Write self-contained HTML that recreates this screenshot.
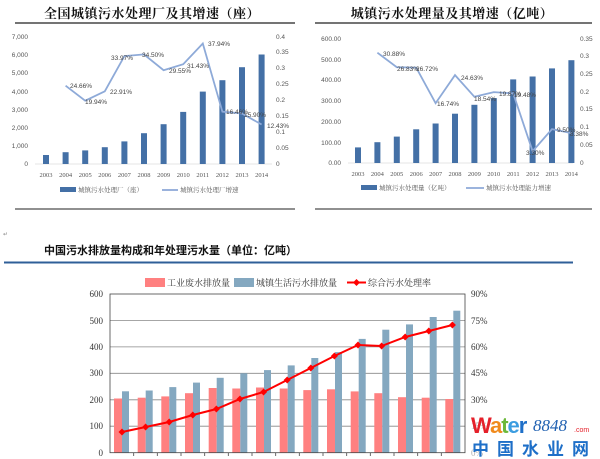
<!DOCTYPE html>
<html><head><meta charset="utf-8"><style>
body{margin:0;background:#fff;}
svg{display:block;font-family:"Liberation Sans","Noto Sans CJK SC",sans-serif;}
.t{font-family:"Liberation Serif","Noto Serif CJK SC",serif;}
</style></head><body>
<svg width="600" height="459" viewBox="0 0 600 459" xmlns="http://www.w3.org/2000/svg">
<defs><clipPath id="pc"><rect x="110" y="290" width="355" height="162.7"/></clipPath></defs>
<!-- Chart 1 -->
<text x="152" y="18" text-anchor="middle" font-size="13" font-weight="bold" fill="#111" class="t" letter-spacing="0.5">全国城镇污水处理厂及其增速（座）</text>
<line x1="15" y1="23" x2="295" y2="23" stroke="#222" stroke-width="1.2"/>
<g font-size="6.5" fill="#555" text-anchor="end">
<text x="28" y="166">0</text><text x="28" y="148">1,000</text><text x="28" y="130">2,000</text><text x="28" y="112">3,000</text><text x="28" y="94">4,000</text><text x="28" y="75">5,000</text><text x="28" y="57">6,000</text><text x="28" y="39">7,000</text>
</g>
<g font-size="6.5" fill="#555">
<text x="276" y="166">0</text><text x="276" y="150">0.05</text><text x="276" y="134">0.1</text><text x="276" y="118">0.15</text><text x="276" y="102">0.2</text><text x="276" y="86">0.25</text><text x="276" y="70">0.3</text><text x="276" y="54">0.35</text><text x="276" y="39">0.4</text>
</g>
<line x1="35" y1="164" x2="272" y2="164" stroke="#ccc" stroke-width="0.6"/>
<g fill="#4470a6">
<rect x="43" y="155" width="6" height="9"/><rect x="62.6" y="152.2" width="6" height="11.8"/><rect x="82.2" y="150.4" width="6" height="13.6"/><rect x="101.8" y="147.2" width="6" height="16.8"/><rect x="121.4" y="141.4" width="6" height="22.6"/><rect x="141" y="133.2" width="6" height="30.8"/><rect x="160.6" y="124.2" width="6" height="39.8"/><rect x="180.2" y="111.9" width="6" height="52.1"/><rect x="199.8" y="91.6" width="6" height="72.4"/><rect x="219.4" y="80.2" width="6" height="83.8"/><rect x="239" y="67.2" width="6" height="96.8"/><rect x="258.6" y="54.5" width="6" height="109.5"/>
</g>
<polyline fill="none" stroke="#8eaad8" stroke-width="1.8" points="65.6,85.7 85.2,100.7 104.8,91.3 124.4,56.1 144,54.4 163.6,70.2 183.2,64.2 202.8,43.5 222.4,111.7 242,113.5 261.6,124.5"/>
<g font-size="6.5" fill="#444">
<text x="70" y="88">24.66%</text><text x="85" y="104">19.94%</text><text x="110" y="94">22.91%</text><text x="111" y="60">33.97%</text><text x="142" y="57">34.50%</text><text x="169" y="73">29.55%</text><text x="187" y="68">31.43%</text><text x="208" y="46">37.94%</text><text x="226" y="114">16.46%</text><text x="244" y="117">15.90%</text><text x="267" y="128">12.43%</text>
</g>
<g font-size="6.5" fill="#555" text-anchor="middle" class="t">
<text x="46" y="177">2003</text><text x="65.6" y="177">2004</text><text x="85.2" y="177">2005</text><text x="104.8" y="177">2006</text><text x="124.4" y="177">2007</text><text x="144" y="177">2008</text><text x="163.6" y="177">2009</text><text x="183.2" y="177">2010</text><text x="202.8" y="177">2011</text><text x="222.4" y="177">2012</text><text x="242" y="177">2013</text><text x="261.6" y="177">2014</text>
</g>
<rect x="60" y="187" width="16" height="5" fill="#4470a6"/>
<text x="78" y="192" font-size="6.5" fill="#555" class="t">城镇污水处理厂（座）</text>
<line x1="162" y1="190" x2="178" y2="190" stroke="#8eaad8" stroke-width="1.8"/>
<text x="180" y="192" font-size="6.5" fill="#555" class="t">城镇污水处理厂增速</text>
<line x1="15" y1="209" x2="295" y2="209" stroke="#222" stroke-width="1"/>

<!-- Chart 2 -->
<text x="452" y="18" text-anchor="middle" font-size="13" font-weight="bold" fill="#111" class="t" letter-spacing="0.5">城镇污水处理量及其增速（亿吨）</text>
<line x1="315" y1="23" x2="592" y2="23" stroke="#222" stroke-width="1.2"/>
<g font-size="6.5" fill="#555" text-anchor="end">
<text x="341" y="165">0.00</text><text x="341" y="145">100.00</text><text x="341" y="124">200.00</text><text x="341" y="103">300.00</text><text x="341" y="82">400.00</text><text x="341" y="62">500.00</text><text x="341" y="41">600.00</text>
</g>
<g font-size="6.5" fill="#555">
<text x="580" y="165">0</text><text x="580" y="147">0.05</text><text x="580" y="129">0.1</text><text x="580" y="111">0.15</text><text x="580" y="94">0.2</text><text x="580" y="76">0.25</text><text x="580" y="58">0.3</text><text x="580" y="41">0.35</text>
</g>
<line x1="348" y1="163" x2="573" y2="163" stroke="#ccc" stroke-width="0.6"/>
<g fill="#4470a6">
<rect x="355" y="147.4" width="6" height="15.6"/><rect x="374.4" y="142.2" width="6" height="20.8"/><rect x="393.8" y="136.6" width="6" height="26.4"/><rect x="413.2" y="129.3" width="6" height="33.7"/><rect x="432.6" y="123.5" width="6" height="39.5"/><rect x="452" y="113.7" width="6" height="49.3"/><rect x="471.4" y="104.8" width="6" height="58.2"/><rect x="490.8" y="98.1" width="6" height="64.9"/><rect x="510.2" y="79.4" width="6" height="83.6"/><rect x="529.6" y="76.5" width="6" height="86.5"/><rect x="549" y="68.4" width="6" height="94.6"/><rect x="568.4" y="60.2" width="6" height="102.8"/>
</g>
<polyline fill="none" stroke="#8eaad8" stroke-width="1.8" points="377.4,52.7 396.8,67.2 416.2,67.6 435.6,103.2 455,75.1 474.4,96.8 493.8,92.1 513.2,93.4 532.6,151.2 552,129.1 571.4,133.1"/>
<g font-size="6.5" fill="#444">
<text x="383" y="56">30.88%</text><text x="397" y="71">26.83%</text><text x="416" y="71">26.72%</text><text x="437" y="106">16.74%</text><text x="461" y="80">24.63%</text><text x="474" y="101">18.54%</text><text x="499" y="96">19.87%</text><text x="514" y="97">19.48%</text><text x="526" y="155">3.30%</text><text x="557" y="132">9.50%</text><text x="570" y="136">8.38%</text>
</g>
<g font-size="6.5" fill="#555" text-anchor="middle" class="t">
<text x="358" y="176">2003</text><text x="377.4" y="176">2004</text><text x="396.8" y="176">2005</text><text x="416.2" y="176">2006</text><text x="435.6" y="176">2007</text><text x="455" y="176">2008</text><text x="474.4" y="176">2009</text><text x="493.8" y="176">2010</text><text x="513.2" y="176">2011</text><text x="532.6" y="176">2012</text><text x="552" y="176">2013</text><text x="571.4" y="176">2014</text>
</g>
<rect x="361" y="185" width="16" height="5" fill="#4470a6"/>
<text x="379" y="190" font-size="6.5" fill="#555" class="t">城镇污水处理量（亿吨）</text>
<line x1="466" y1="188" x2="484" y2="188" stroke="#8eaad8" stroke-width="1.8"/>
<text x="486" y="190" font-size="6.5" fill="#555" class="t">城镇污水处理能力增速</text>
<line x1="315" y1="209" x2="592" y2="209" stroke="#222" stroke-width="1"/>

<!-- Chart 3 -->
<text x="3" y="236" font-size="6" fill="#888">↵</text>
<text x="44" y="254" font-size="11" font-weight="bold" fill="#111">中国污水排放量构成和年处理污水量（单位：亿吨）</text>
<line x1="4" y1="262.5" x2="573" y2="262.5" stroke="#2f5f98" stroke-width="2"/>
<rect x="145" y="278" width="20" height="9" fill="#ff8080"/>
<text x="167" y="286" font-size="9" fill="#333" class="t">工业废水排放量</text>
<rect x="234" y="278" width="20" height="9" fill="#84a8c0"/>
<text x="256" y="286" font-size="9" fill="#333" class="t">城镇生活污水排放量</text>
<line x1="347" y1="282.5" x2="366" y2="282.5" stroke="#f00" stroke-width="2"/>
<path d="M356.5 279 L360 282.5 L356.5 286 L353 282.5Z" fill="#f00"/>
<text x="368" y="286" font-size="9" fill="#333" class="t">综合污水处理率</text>
<g stroke="#888" stroke-width="0.8">
<line x1="110" y1="320.4" x2="465" y2="320.4"/><line x1="110" y1="346.9" x2="465" y2="346.9"/><line x1="110" y1="373.3" x2="465" y2="373.3"/><line x1="110" y1="399.8" x2="465" y2="399.8"/><line x1="110" y1="426.2" x2="465" y2="426.2"/>
</g>
<g font-size="9" fill="#333" text-anchor="end" class="t">
<text x="103" y="297">600</text><text x="103" y="324">500</text><text x="103" y="350">400</text><text x="103" y="376">300</text><text x="103" y="403">200</text><text x="103" y="429">100</text><text x="103" y="456">0</text>
</g>
<g font-size="9" fill="#333" class="t">
<text x="471" y="297">90%</text><text x="471" y="324">75%</text><text x="471" y="350">60%</text><text x="471" y="376">45%</text><text x="471" y="403">30%</text><text x="471" y="429">15%</text><text x="471" y="456">0%</text>
</g>
<g clip-path="url(#pc)">
<g fill="#ff8080">
<rect x="114" y="398.5" width="8" height="60"/><rect x="137.7" y="397.7" width="8" height="60"/><rect x="161.3" y="396.4" width="8" height="60"/><rect x="185" y="393.2" width="8" height="60"/><rect x="208.7" y="388" width="8" height="70"/><rect x="232.3" y="388.5" width="8" height="70"/><rect x="256" y="387.5" width="8" height="70"/><rect x="279.7" y="388.5" width="8" height="70"/><rect x="303.3" y="390.1" width="8" height="70"/><rect x="327" y="389.3" width="8" height="70"/><rect x="350.7" y="391.4" width="8" height="70"/><rect x="374.3" y="393.2" width="8" height="70"/><rect x="398" y="397.2" width="8" height="70"/><rect x="421.7" y="397.7" width="8" height="70"/><rect x="445.3" y="399" width="8" height="70"/>
</g>
<g fill="#84a8c0">
<rect x="122" y="391.3" width="7" height="70"/><rect x="145.7" y="390.5" width="7" height="70"/><rect x="169.3" y="387.1" width="7" height="70"/><rect x="193" y="382.6" width="7" height="80"/><rect x="216.7" y="377.8" width="7" height="80"/><rect x="240.3" y="373.3" width="7" height="90"/><rect x="264" y="370.1" width="7" height="90"/><rect x="287.7" y="365.4" width="7" height="90"/><rect x="311.3" y="358" width="7" height="100"/><rect x="335" y="352.1" width="7" height="110"/><rect x="358.7" y="338.9" width="7" height="120"/><rect x="382.3" y="329.7" width="7" height="130"/><rect x="406" y="324.4" width="7" height="140"/><rect x="429.7" y="317" width="7" height="150"/><rect x="453.3" y="310.7" width="7" height="160"/>
</g>
</g>
<rect x="110" y="294" width="355" height="158.7" fill="none" stroke="#444" stroke-width="0.8"/>
<g stroke="#444" stroke-width="0.8">
<line x1="133.7" y1="452.7" x2="133.7" y2="456"/><line x1="157.3" y1="452.7" x2="157.3" y2="456"/><line x1="181" y1="452.7" x2="181" y2="456"/><line x1="204.7" y1="452.7" x2="204.7" y2="456"/><line x1="228.3" y1="452.7" x2="228.3" y2="456"/><line x1="252" y1="452.7" x2="252" y2="456"/><line x1="275.7" y1="452.7" x2="275.7" y2="456"/><line x1="299.3" y1="452.7" x2="299.3" y2="456"/><line x1="323" y1="452.7" x2="323" y2="456"/><line x1="346.7" y1="452.7" x2="346.7" y2="456"/><line x1="370.3" y1="452.7" x2="370.3" y2="456"/><line x1="394" y1="452.7" x2="394" y2="456"/><line x1="417.7" y1="452.7" x2="417.7" y2="456"/><line x1="441.3" y1="452.7" x2="441.3" y2="456"/>
</g>
<polyline fill="none" stroke="#f00" stroke-width="2" points="122,432 145.6,427 169.2,422 192.8,415 216.4,409 240,399 263.6,392 287.2,380 310.8,368 334.4,356 358,345 381.6,346 405.2,337 428.8,331 452.4,325"/>
<g fill="#f00">
<path d="M122 428.5l3.5 3.5-3.5 3.5-3.5-3.5z"/><path d="M145.6 423.5l3.5 3.5-3.5 3.5-3.5-3.5z"/><path d="M169.2 418.5l3.5 3.5-3.5 3.5-3.5-3.5z"/><path d="M192.8 411.5l3.5 3.5-3.5 3.5-3.5-3.5z"/><path d="M216.4 405.5l3.5 3.5-3.5 3.5-3.5-3.5z"/><path d="M240 395.5l3.5 3.5-3.5 3.5-3.5-3.5z"/><path d="M263.6 388.5l3.5 3.5-3.5 3.5-3.5-3.5z"/><path d="M287.2 376.5l3.5 3.5-3.5 3.5-3.5-3.5z"/><path d="M310.8 364.5l3.5 3.5-3.5 3.5-3.5-3.5z"/><path d="M334.4 352.5l3.5 3.5-3.5 3.5-3.5-3.5z"/><path d="M358 341.5l3.5 3.5-3.5 3.5-3.5-3.5z"/><path d="M381.6 342.5l3.5 3.5-3.5 3.5-3.5-3.5z"/><path d="M405.2 333.5l3.5 3.5-3.5 3.5-3.5-3.5z"/><path d="M428.8 327.5l3.5 3.5-3.5 3.5-3.5-3.5z"/><path d="M452.4 321.5l3.5 3.5-3.5 3.5-3.5-3.5z"/>
</g>
<!-- watermark -->
<rect x="470" y="412" width="122" height="46" fill="#fff" opacity="0.6"/>
<text x="471" y="433" font-size="22" font-weight="bold" letter-spacing="-1"><tspan fill="#e5202a">W</tspan><tspan fill="#f08a1c">a</tspan><tspan fill="#6cb83a">t</tspan><tspan fill="#3c9de0">e</tspan><tspan fill="#1e6fc8">r</tspan></text>
<text x="533" y="431" font-size="17" font-style="italic" fill="#1e5fb0" class="t">8848</text>
<text x="574" y="432" font-size="7" fill="#e5202a">.com</text>
<text x="472" y="455" font-size="17" font-weight="bold" fill="#1e6fc8" letter-spacing="8">中国水业网</text>
</svg>
</body></html>
